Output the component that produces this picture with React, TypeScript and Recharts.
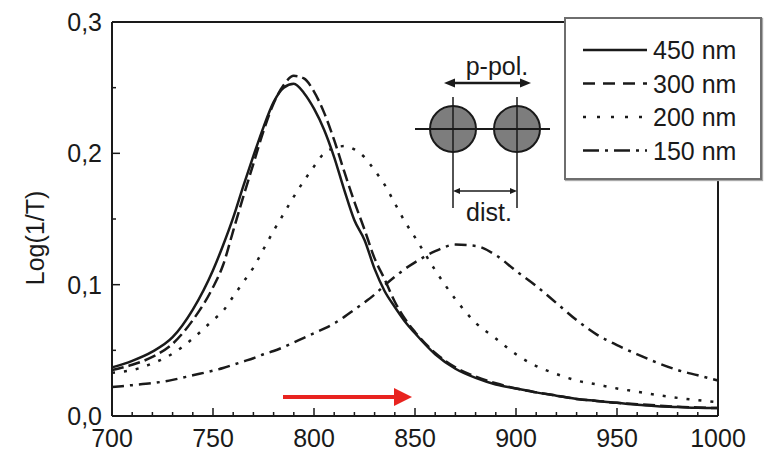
import { LineChart, Line, XAxis, YAxis, Legend } from "recharts";

const FONT = "'Liberation Sans', Arial, sans-serif";
const INK = "#1a1a1a";

// wavelength (nm)
const wavelengths = [
  700, 710, 720, 730, 740, 750, 755, 760, 765, 770, 775, 780, 785, 790, 795,
  800, 805, 810, 815, 820, 825, 830, 835, 840, 845, 850, 860, 870, 880, 890,
  900, 910, 920, 930, 940, 950, 960, 970, 980, 990, 1000,
];

// Log(1/T) for each particle distance
const dist450 = [
  0.037, 0.042, 0.049, 0.06, 0.081, 0.111, 0.13, 0.151, 0.175, 0.198, 0.22,
  0.239, 0.25, 0.253, 0.246, 0.234, 0.218, 0.197, 0.172, 0.149, 0.134, 0.112,
  0.095, 0.083, 0.072, 0.063, 0.047, 0.036, 0.029, 0.024, 0.021, 0.018,
  0.0155, 0.013, 0.0115, 0.01, 0.0085, 0.0075, 0.0068, 0.0062, 0.006,
];
const dist300 = [
  0.035, 0.039, 0.045, 0.055, 0.073, 0.098, 0.115, 0.141, 0.167, 0.192, 0.217,
  0.238, 0.252, 0.259, 0.257, 0.247, 0.231, 0.21, 0.186, 0.163, 0.142, 0.12,
  0.104, 0.087, 0.074, 0.064, 0.048, 0.037, 0.03, 0.025, 0.021, 0.018,
  0.0155, 0.013, 0.0115, 0.01, 0.009, 0.008, 0.007, 0.0065, 0.006,
];
const dist200 = [
  0.033, 0.035, 0.04, 0.0475, 0.059, 0.073, 0.08, 0.091, 0.102, 0.113, 0.127,
  0.141, 0.154, 0.167, 0.179, 0.19, 0.2, 0.204, 0.2055, 0.203, 0.197, 0.187,
  0.176, 0.162, 0.148, 0.136, 0.111, 0.089, 0.071, 0.059, 0.047, 0.038,
  0.032, 0.027, 0.024, 0.021, 0.0185, 0.016, 0.0138, 0.012, 0.0105,
];
const dist150 = [
  0.022, 0.0235, 0.025, 0.0275, 0.031, 0.0345, 0.0365, 0.039, 0.0415, 0.044,
  0.047, 0.0495, 0.0525, 0.056, 0.0595, 0.063, 0.0665, 0.0705, 0.0755, 0.081,
  0.0865, 0.0925, 0.0995, 0.106, 0.112, 0.117, 0.1255, 0.1305, 0.1295, 0.1225,
  0.1105, 0.099, 0.086, 0.073, 0.062, 0.054, 0.047, 0.0405, 0.035, 0.031, 0.027,
];

const xTicks = [
  700, 710, 720, 730, 740, 750, 760, 770, 780, 790, 800, 810, 820, 830, 840,
  850, 860, 870, 880, 890, 900, 910, 920, 930, 940, 950, 960, 970, 980, 990,
  1000,
];
const yTicks = [0, 0.05, 0.1, 0.15, 0.2, 0.25, 0.3];

const series = [
  { key: "d450", name: "450 nm", dash: undefined, legendDash: undefined },
  { key: "d300", name: "300 nm", dash: "12 5", legendDash: "12 8" },
  { key: "d200", name: "200 nm", dash: "3 9", legendDash: "3 11" },
  { key: "d150", name: "150 nm", dash: "12 6 3 6", legendDash: "16 6 3 6" },
];

const data = wavelengths.map((w, i) => ({
  w,
  d450: dist450[i],
  d300: dist300[i],
  d200: dist200[i],
  d150: dist150[i],
}));

const isMajorX = (v: number) => v % 50 === 0;
const isMajorY = (v: number) => Math.round(v * 100) % 10 === 0;
const fmtY = (v: number) => v.toFixed(1).replace(".", ",");

function BottomTick(props: any) {
  const { x, y, payload } = props;
  const major = isMajorX(payload.value);
  return (
    <g>
      <line x1={x} x2={x} y1={y} y2={y - (major ? 8 : 4)} stroke={INK} strokeWidth={1.5} />
      {major && (
        <text x={x} y={y + 31} textAnchor="middle" fontSize={25} fontFamily={FONT} fill={INK}>
          {payload.value}
        </text>
      )}
    </g>
  );
}

function TopTick(props: any) {
  const { x, y, payload } = props;
  const major = isMajorX(payload.value);
  return <line x1={x} x2={x} y1={y} y2={y + (major ? 8 : 4)} stroke={INK} strokeWidth={1.5} />;
}

function LeftTick(props: any) {
  const { x, y, payload } = props;
  const major = isMajorY(payload.value);
  return (
    <g>
      <line x1={x} x2={x + (major ? 8 : 4)} y1={y} y2={y} stroke={INK} strokeWidth={1.5} />
      {major && (
        <text x={x - 10} y={y} dy="0.36em" textAnchor="end" fontSize={25} fontFamily={FONT} fill={INK}>
          {fmtY(payload.value)}
        </text>
      )}
    </g>
  );
}

function RightTick(props: any) {
  const { x, y, payload } = props;
  const major = isMajorY(payload.value);
  return <line x1={x} x2={x - (major ? 8 : 4)} y1={y} y2={y} stroke={INK} strokeWidth={1.5} />;
}

function LegendBox() {
  return (
    <div
      style={{
        width: 198,
        height: 163,
        boxSizing: "border-box",
        border: "2px solid #6e6e6e",
        boxShadow: "1px 1px 1px #aaa",
        background: "#fff",
      }}
    >
      <svg width={194} height={159}>
        {series.map((s, i) => {
          const cy = 31 + i * 33.5;
          return (
            <g key={s.key}>
              <line x1={17} x2={81} y1={cy} y2={cy} stroke={INK} strokeWidth={2.5} strokeDasharray={s.legendDash} />
              <text x={87} y={cy} dy="0.36em" fontSize={25} fontFamily={FONT} fill={INK}>
                {s.name}
              </text>
            </g>
          );
        })}
      </svg>
    </div>
  );
}

function Overlay() {
  const arrowHead = (x: number, y: number, dir: number, len: number, half: number) =>
    `${x},${y} ${x - dir * len},${y - half} ${x - dir * len},${y + half}`;
  return (
    <svg
      width={765}
      height={451}
      style={{ position: "absolute", left: 0, top: 0, pointerEvents: "none" }}
    >
      {/* y axis title */}
      <text
        transform="translate(44,238) rotate(-90)"
        textAnchor="middle"
        fontSize={25}
        fontFamily={FONT}
        fill={INK}
      >
        Log(1/T)
      </text>

      {/* inset: two particles, polarization and distance */}
      <text x={497} y={75} textAnchor="middle" fontSize={25} fontFamily={FONT} fill={INK}>
        p-pol.
      </text>
      <line x1={452} x2={523} y1={83} y2={83} stroke={INK} strokeWidth={2.5} />
      <polygon points={arrowHead(444, 83, -1, 11, 4.5)} fill={INK} />
      <polygon points={arrowHead(531, 83, 1, 11, 4.5)} fill={INK} />

      <circle cx={453} cy={129} r={23} fill="#7d7d7d" stroke={INK} strokeWidth={2} />
      <circle cx={517} cy={129} r={23} fill="#7d7d7d" stroke={INK} strokeWidth={2} />
      <line x1={415} x2={550} y1={129} y2={129} stroke={INK} strokeWidth={2} />
      <line x1={453} x2={453} y1={97} y2={208} stroke={INK} strokeWidth={1.5} />
      <line x1={517} x2={517} y1={97} y2={208} stroke={INK} strokeWidth={1.5} />
      <line x1={458} x2={512} y1={191} y2={191} stroke={INK} strokeWidth={1.5} />
      <polygon points={arrowHead(453, 191, -1, 7, 3)} fill={INK} />
      <polygon points={arrowHead(517, 191, 1, 7, 3)} fill={INK} />
      <text x={489} y={221} textAnchor="middle" fontSize={25} fontFamily={FONT} fill={INK}>
        dist.
      </text>

      {/* red shift arrow */}
      <line x1={283} x2={396} y1={397} y2={397} stroke="#e8231f" strokeWidth={4} />
      <polygon points={arrowHead(412, 397, 1, 18, 9)} fill="#e8231f" />
    </svg>
  );
}

export default function App() {
  return (
    <div style={{ position: "absolute", left: 0, top: 0, width: 765, height: 451, background: "#fff" }}>
      <LineChart
        width={765}
        height={451}
        data={data}
        margin={{ top: 21, right: 46, bottom: 34, left: 111 }}
      >
        <XAxis
          dataKey="w"
          type="number"
          domain={[700, 1000]}
          ticks={xTicks}
          interval={0}
          height={1}
          tickSize={0}
          tickMargin={0}
          tick={<BottomTick />}
          axisLine={{ stroke: INK, strokeWidth: 2 }}
          tickLine={false}
        />
        <XAxis
          xAxisId="top"
          orientation="top"
          type="number"
          domain={[700, 1000]}
          ticks={xTicks}
          interval={0}
          height={1}
          tickSize={0}
          tickMargin={0}
          tick={<TopTick />}
          axisLine={{ stroke: INK, strokeWidth: 2 }}
          tickLine={false}
        />
        <YAxis
          type="number"
          domain={[0, 0.3]}
          ticks={yTicks}
          interval={0}
          width={1}
          tickSize={0}
          tickMargin={0}
          tick={<LeftTick />}
          axisLine={{ stroke: INK, strokeWidth: 2 }}
          tickLine={false}
        />
        <YAxis
          yAxisId="right"
          orientation="right"
          type="number"
          domain={[0, 0.3]}
          ticks={yTicks}
          interval={0}
          width={1}
          tickSize={0}
          tickMargin={0}
          tick={<RightTick />}
          axisLine={{ stroke: INK, strokeWidth: 2 }}
          tickLine={false}
        />
        {series.map((s) => (
          <Line
            key={s.key}
            dataKey={s.key}
            name={s.name}
            type="monotone"
            stroke={INK}
            strokeWidth={2.5}
            strokeDasharray={s.dash}
            dot={false}
            activeDot={false}
            isAnimationActive={false}
          />
        ))}
        <Legend
          layout="vertical"
          align="center"
          verticalAlign="middle"
          content={() => <LegendBox />}
          wrapperStyle={{ position: "absolute", left: 564, top: 17, width: 198, height: 163 }}
        />
      </LineChart>
      <Overlay />
    </div>
  );
}
